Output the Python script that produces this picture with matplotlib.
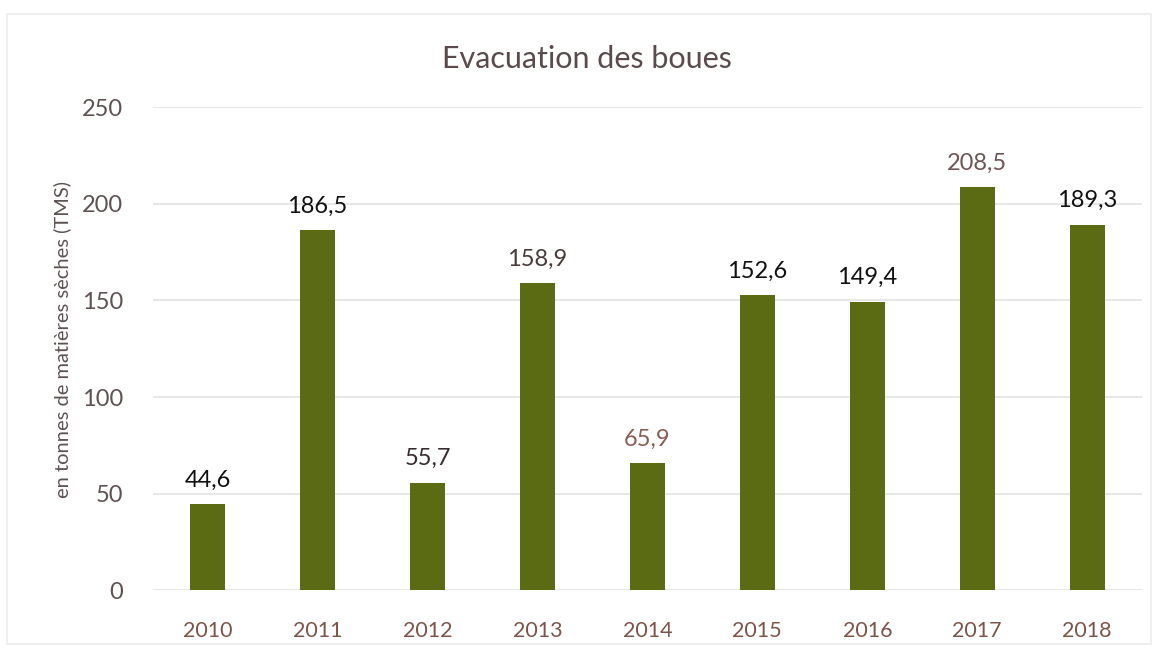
import matplotlib.pyplot as plt

years = ['2010', '2011', '2012', '2013', '2014', '2015', '2016', '2017', '2018']
tonnes = [44.6, 186.5, 55.7, 158.9, 65.9, 152.6, 149.4, 208.5, 189.3]
# the scan renders some labels darker than others
label_colors = ['#111111', '#111111', '#3a2c32', '#4a3a3a', '#8a5e52',
                '#111111', '#111111', '#6e5656', '#111111']

plt.rcParams['font.family'] = ['Lato', 'DejaVu Sans']

fig = plt.figure(figsize=(11.56, 6.5), dpi=100)
ax = fig.add_axes([0.132, 0.092, 0.856, 0.743])

x = range(len(years))
bars = ax.bar(x, tonnes, width=0.32, color='#5b6b14', zorder=3)

for b, v, c in zip(bars, tonnes, label_colors):
    ax.text(b.get_x() + b.get_width() / 2, v + 7, f'{v:.1f}'.replace('.', ','),
            ha='center', va='bottom', fontsize=17, color=c)

ax.set_xlim(-0.5, 8.5)
ax.set_ylim(0, 250)
ax.set_yticks([0, 50, 100, 150, 200, 250])
ax.set_xticks(list(x))
ax.set_xticklabels(years)
ax.tick_params(axis='x', length=0, labelsize=15.5, labelcolor='#7b5648', pad=22)
ax.tick_params(axis='y', length=0, labelsize=17, labelcolor='#5e5252', pad=21)
ax.grid(axis='y', color='#e3e3e3', linewidth=1.2, zorder=0)
for s in ax.spines.values():
    s.set_visible(False)

ax.set_ylabel('en tonnes de matières sèches (TMS)', fontsize=14.5, color='#5e5252')
ax.yaxis.set_label_coords(-0.082, 0.52)
fig.text(0.508, 0.91, 'Evacuation des boues', ha='center', va='center',
         fontsize=22, color='#5a4a4c')

# faint chart border from the scan
fig.patches.append(plt.Rectangle((0.006, 0.01), 0.99, 0.968, transform=fig.transFigure,
                                 fill=False, edgecolor='#efefef', linewidth=1.5))

fig.savefig('out.png', dpi=100)
